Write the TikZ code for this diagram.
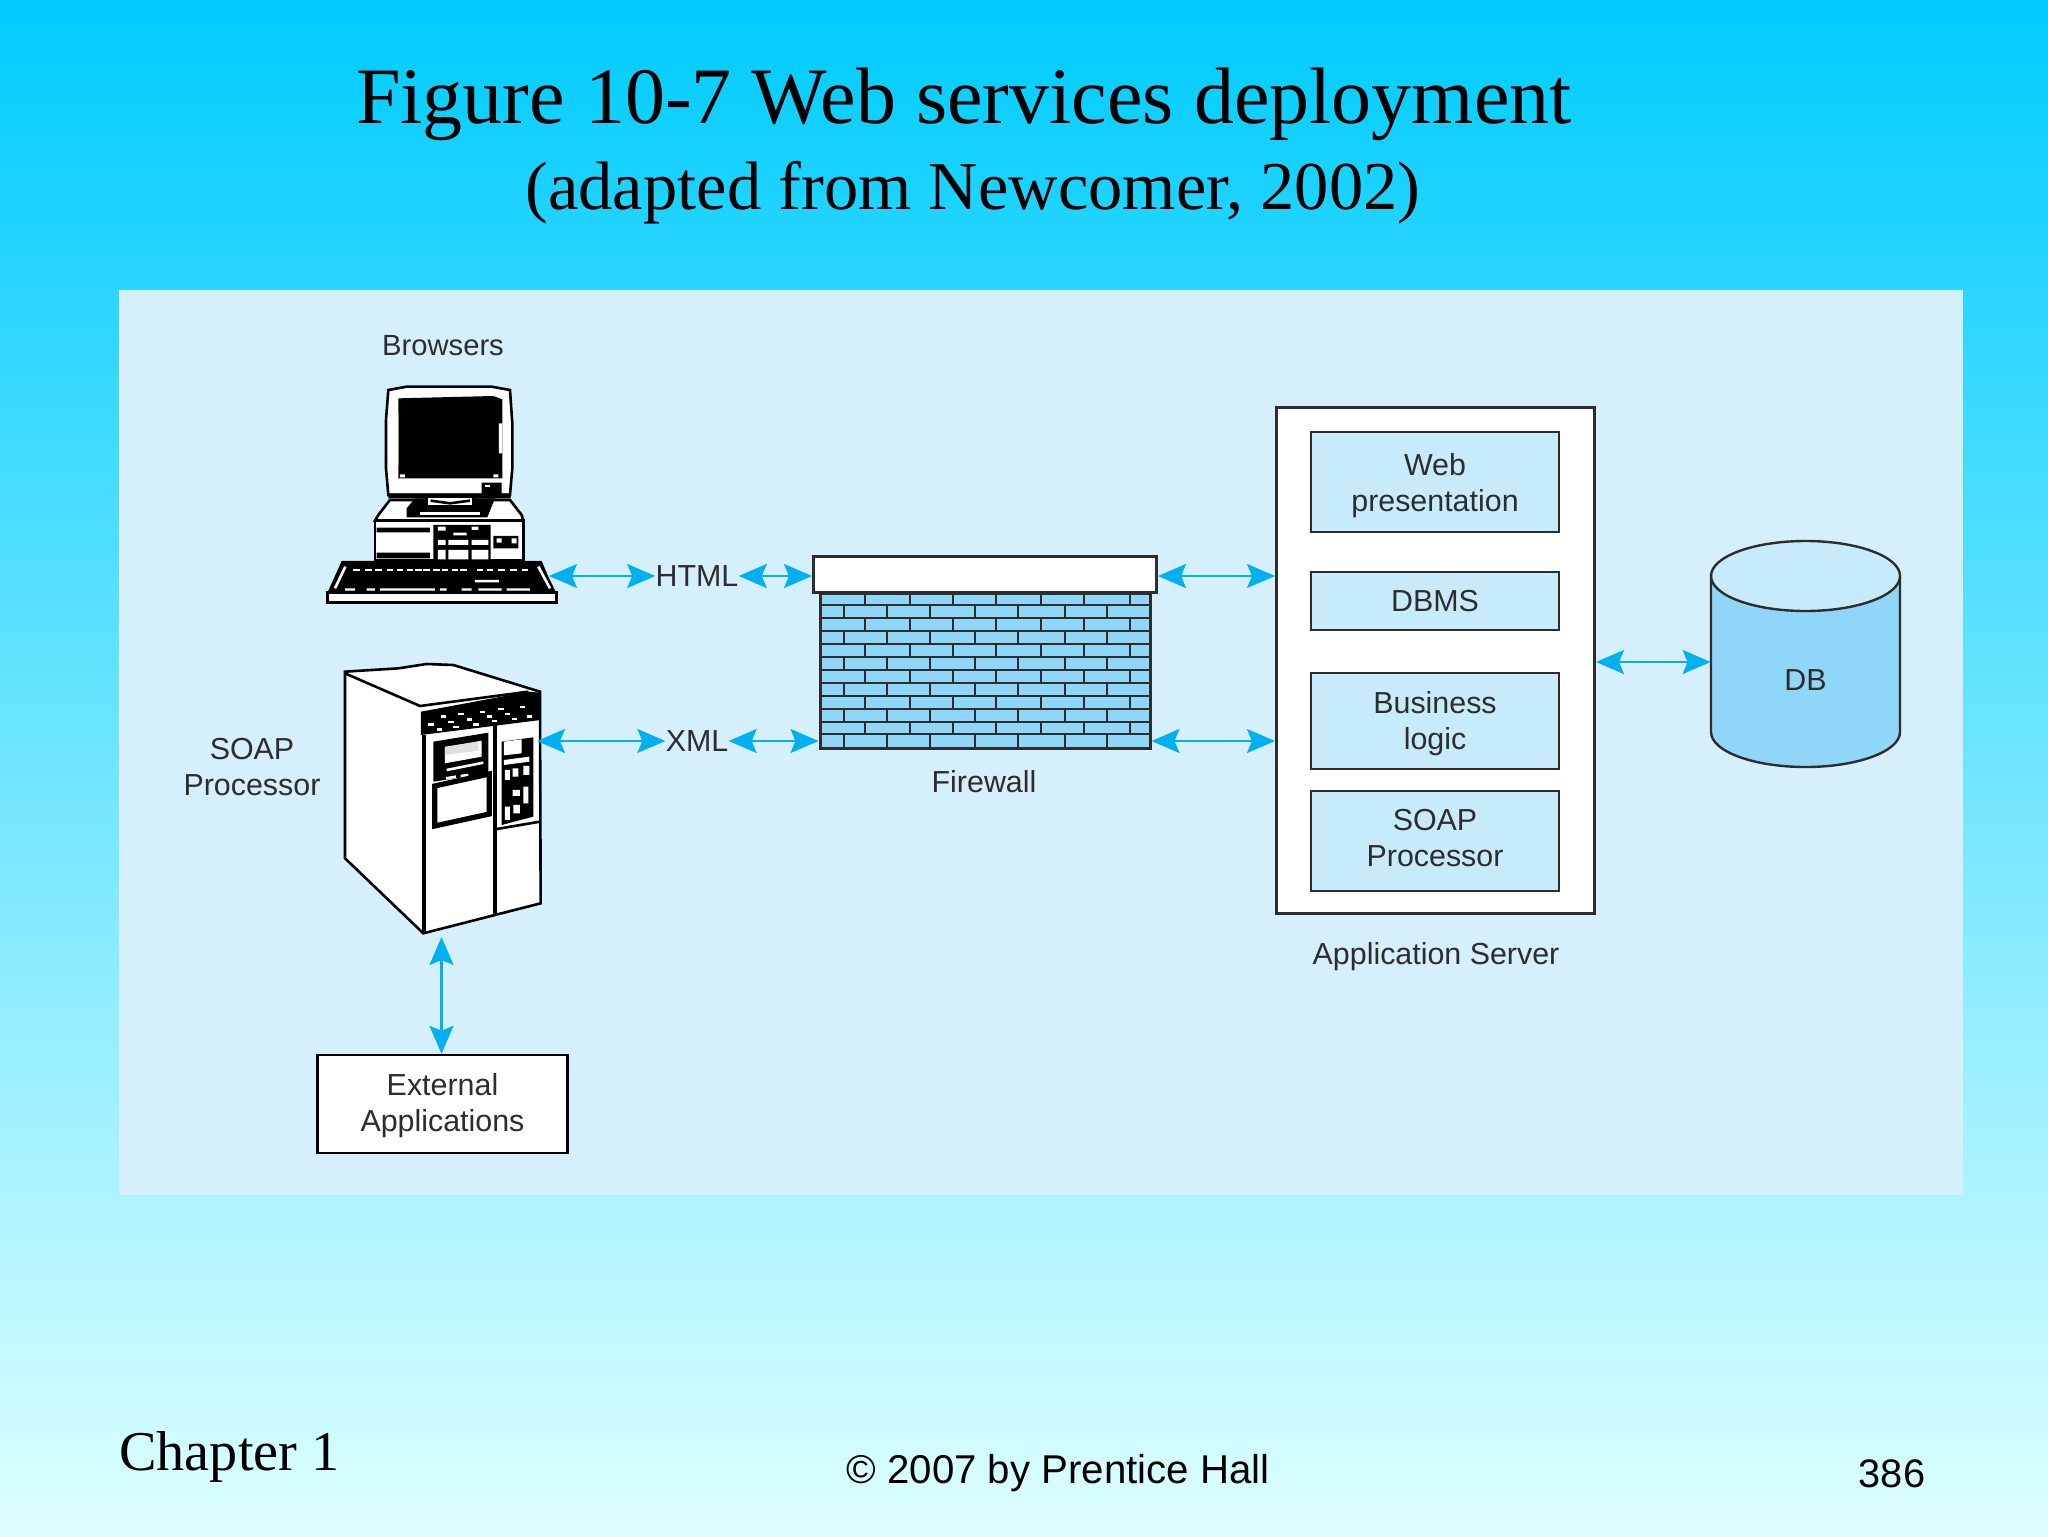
\documentclass[tikz,border=0pt]{standalone}
\usepackage{fontspec}
\setmainfont{Liberation Serif}
\newfontfamily\labelfont{Liberation Sans}
\usetikzlibrary{arrows.meta}
\definecolor{skytop}{RGB}{0,204,255}
\definecolor{skybot}{RGB}{222,255,255}
\definecolor{panelblue}{RGB}{214,239,252}
\definecolor{boxblue}{RGB}{200,235,251}
\definecolor{brickblue}{RGB}{143,214,248}
\definecolor{linkblue}{RGB}{0,176,240}
\definecolor{inkgrey}{RGB}{45,45,45}
\tikzset{
  lbl/.style={font=\labelfont\fontsize{15.2}{18}\selectfont, text=inkgrey, align=center, inner sep=0pt},
  appbox/.style={draw=inkgrey, line width=1.2pt, fill=boxblue, minimum width=124pt, inner sep=0pt},
  link/.style={linkblue, line width=1.1pt, {Stealth[length=14pt,width=12pt,inset=2.5pt]}-{Stealth[length=14pt,width=12pt,inset=2.5pt]}},
  ink/.style={draw=black, line width=1.3pt}
}
\begin{document}
\begin{tikzpicture}[x=0.5pt, y=-0.5pt]
  \useasboundingbox (0,0) rectangle (2048,1536);
  \shade[top color=skytop, bottom color=skybot] (0,0) rectangle (2048,1536);
  \fill[panelblue] (119,290) rectangle (1963,1195);

  \node[font=\fontsize{40}{42}\selectfont] (title) at (964,104.5) {Figure 10-7 Web services deployment};
  \node[font=\fontsize{34.25}{36}\selectfont] (subtitle) at (973,192.5) {(adapted from Newcomer, 2002)};
  \node[font=\fontsize{28.1}{30}\selectfont, anchor=west, inner sep=0pt] (chapter) at (119,1457) {Chapter 1};
  \node[font=\labelfont\fontsize{20.1}{21}\selectfont] (copyright) at (1058,1473) {\textcopyright{} 2007 by Prentice Hall};
  \node[font=\labelfont\fontsize{19.9}{21}\selectfont] (pageno) at (1892,1474) {386};

  % browser machine
  \begin{scope}[shift={(300,360)}, scale=0.3333]
    \draw[ink, fill=white] (265,90) -- (320,80) -- (575,80) -- (630,90) -- (637,190) -- (637,325) -- (630,405) -- (265,405) -- (258,325) -- (258,180) -- cycle;
    \fill[black] (295,115) -- (580,108) -- (607,118) -- (607,355) -- (295,355) -- cycle;
    \fill[white] (287,160) rectangle (295,315) (597,190) rectangle (607,280) (300,343) rectangle (315,352) (580,343) rectangle (595,352);
    \fill[black] (545,368) rectangle (605,400) (265,400) rectangle (632,415);
    \fill[white] (555,374) rectangle (570,381);
    \draw[ink, fill=white] (235,465) -- (270,420) -- (630,420) -- (665,465) -- (670,482) -- (225,482) -- cycle;
    \fill[black] (320,445) -- (345,415) -- (585,415) -- (562,472) -- (320,472) -- cycle;
    \draw[ink, fill=white] (380,410) rectangle (520,438);
    \draw[ink] (392,422) -- (450,430) -- (510,422);
    \fill[white] (360,457) rectangle (540,464);
    \draw[ink, fill=white] (225,482) rectangle (670,602);
    \fill[black] (230,503) rectangle (390,517) (230,578) rectangle (390,595) (400,495) rectangle (572,600) (580,528) rectangle (655,565);
    \fill[white] (414,500) rectangle (437,512) (460,518) rectangle (500,526) (515,500) rectangle (535,510) (414,540) rectangle (437,555) (445,540) rectangle (505,555) (515,540) rectangle (565,555) (414,570) rectangle (437,598) (445,570) rectangle (505,598) (515,570) rectangle (565,598) (590,535) rectangle (605,548) (635,535) rectangle (650,550);
    \fill[black] (125,603) -- (725,603) -- (745,650) -- (768,697) -- (83,697) -- cycle;
    \draw[white, line width=1.3pt] (136,620) -- (105,685) (715,620) -- (750,685);
    \foreach \kx in {160,195,225,260,290,320,345,370,400,425,455,480,530,560,595,630,665}
      \fill[white] (\kx,627) rectangle ++(20,5);
    \fill[white] (135,685) rectangle (165,692) (200,685) rectangle (225,692) (240,685) rectangle (405,692) (420,685) rectangle (440,692) (485,685) rectangle (515,692) (535,685) rectangle (605,692) (620,685) rectangle (690,692) (525,660) rectangle (597,667);
    \draw[ink, fill=white] (83,697) rectangle (770,728);
  \end{scope}

  % soap machine
  \begin{scope}[shift={(320,640)}, scale=0.3333]
    \draw[ink, fill=white] (75,95) -- (235,85) -- (320,72) -- (400,75) -- (660,155) -- (662,790) -- (525,825) -- (310,880) -- (75,655) -- cycle;
    \draw[ink] (75,100) -- (300,198) -- (625,155);
    \fill[black] (303,215) -- (625,155) -- (662,158) -- (662,240) -- (303,285) -- cycle;
    \foreach \wx/\wy in {325/250,362/226,415/218,480/212,535/204,600/197,350/265,385/242,440/235,500/226,555/218,620/226,400/258,460/250,515/240,575/233}
      \fill[white] (\wx,\wy) rectangle ++(16,7);
    \draw[black, line width=2pt] (313,285) -- (313,880) (525,255) -- (525,825);
    \fill[black] (340,305) -- (505,278) -- (505,400) -- (340,425) -- cycle;
    \fill[white] (375,322) -- (485,302) -- (485,350) -- (375,370) -- cycle;
    \fill[black!12] (375,320) -- (475,305) -- (475,332) -- (375,345) -- cycle;
    \draw[white, line width=1.3pt] (380,390) -- (490,368) (378,415) -- (408,410) (422,408) -- (445,405);
    \draw[black, line width=2.6pt, fill=white] (344,438) -- (508,402) -- (508,522) -- (344,558) -- cycle;
    \fill[black] (545,305) -- (640,292) -- (640,530) -- (545,555) -- cycle;
    \fill[white] (552,305) -- (605,298) -- (605,340) -- (552,346) -- cycle;
    \fill[white] (552,360) -- (628,350) -- (628,365) -- (552,375) -- cycle;
    \fill[white] (555,390) rectangle (570,420) (578,385) rectangle (595,410) (610,378) rectangle (628,405) (578,450) rectangle (600,468) (610,440) rectangle (625,490) (555,500) rectangle (570,540) (580,495) rectangle (600,520);
    \draw[black, line width=1.3pt] (525,568) -- (660,545);
  \end{scope}

  % labels round the machines
  \node[lbl, font=\labelfont\fontsize{14.6}{18}\selectfont] (browsers) at (443,346) {Browsers};
  \node[lbl] (soaplabel) at (252,767) {SOAP\\Processor};
  \coordinate (pcport) at (549,576);
  \coordinate (srvport) at (537,741);
  \coordinate (srvfoot) at (441.5,937);
  \node[draw=black, line width=1.2pt, fill=white, minimum width=125pt, minimum height=49pt, inner sep=0pt] (extapps) at (442.5,1104) {};
  \node[lbl] (exttext) at ([yshift=-0.8pt]extapps.center) {External\\Applications};

  % firewall
  \node[draw=inkgrey, line width=1.5pt, fill=white, minimum width=171.5pt, minimum height=18pt, inner sep=0pt] (coping) at (985,574) {};
  \node[draw=inkgrey, line width=1.5pt, fill=brickblue, minimum width=165pt, minimum height=77.5pt, inner sep=0pt, anchor=north] (wall) at (985,592) {};
  \foreach \rr in {1,...,11}
    \draw[inkgrey, line width=1pt] (820,592+\rr*12.95) -- (1150,592+\rr*12.95);
  \foreach \rr in {0,2,...,10}
    \foreach \bx in {864.5,909.6,953,996,1041,1084,1130}
      \draw[inkgrey, line width=1pt] (\bx,592+\rr*12.95) -- (\bx,592+\rr*12.95+12.95);
  \foreach \rr in {1,3,...,11}
    \foreach \bx in {844,887,930,975,1018,1065,1107}
      \draw[inkgrey, line width=1pt] (\bx,592+\rr*12.95) -- (\bx,592+\rr*12.95+12.95);
  \node[lbl] (fwlabel) at (984,782) {Firewall};

  % application server
  \node[draw=inkgrey, line width=1.5pt, fill=white, minimum width=159pt, minimum height=253pt, inner sep=0pt] (appsrv) at (1435.5,660.5) {};
  \node[appbox, minimum height=50pt] (web) at (1435,482) {};
  \node[appbox, minimum height=29pt] (dbms) at (1435,601) {};
  \node[appbox, minimum height=48pt] (logic) at (1435,721) {};
  \node[appbox, minimum height=50pt] (soap) at (1435,841) {};
  \node[lbl] (webtext) at ([yshift=-2pt]web.center) {Web\\presentation};
  \node[lbl] (dbmstext) at (dbms.center) {DBMS};
  \node[lbl] (logictext) at ([yshift=-1.3pt]logic.center) {Business\\logic};
  \node[lbl] (soaptext) at ([yshift=1.3pt]soap.center) {SOAP\\Processor};
  \node[lbl] (applabel) at (1436,956.5) {Application Server};

  % database
  \draw[draw=inkgrey, line width=1.2pt, fill=brickblue] (1711,576) -- (1711,732) arc (180:0:94.5 and 35) -- (1900,576) -- cycle;
  \draw[draw=inkgrey, line width=1.2pt, fill=boxblue] (1805.5,576) ellipse (94.5 and 35);
  \node[lbl, minimum width=94.5pt, minimum height=113pt] (db) at (1805.5,680) {DB};

  % links
  \node[lbl] (html) at (697,576) {HTML};
  \node[lbl] (xml) at (697,741) {XML};
  \draw[link] (pcport) -- (html.west);
  \draw[link] (html.east) -- (coping.west |- html.east);
  \draw[link] (coping.east |- html.east) -- (appsrv.west |- html.east);
  \draw[link] (srvport) -- (xml.west);
  \draw[link] (xml.east) -- (wall.west |- xml.east);
  \draw[link] (wall.east |- xml.east) -- (appsrv.west |- xml.east);
  \draw[link] (appsrv.east |- 0,662) -- (db.west |- 0,662);
  \draw[link] (srvfoot) -- (extapps.north -| srvfoot);
\end{tikzpicture}
\end{document}
